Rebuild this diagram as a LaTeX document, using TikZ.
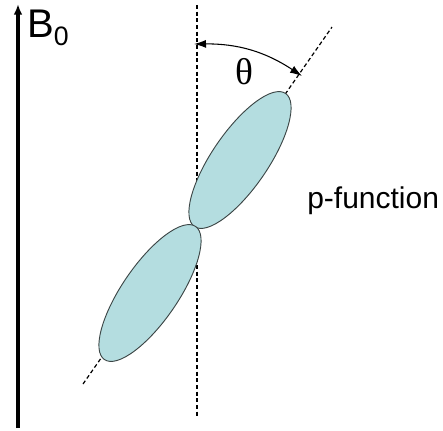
\documentclass[tikz,border=0pt]{standalone}
\usepackage{fontspec}
\setmainfont{Liberation Sans}
\newfontfamily\greekfont{Liberation Serif}
\usetikzlibrary{arrows.meta,shapes.geometric}
\definecolor{lobefill}{RGB}{180,221,224}
\definecolor{lobeline}{RGB}{60,70,70}
\begin{document}
\begin{tikzpicture}[x=0.75pt,y=-0.75pt,
  axisline/.style={line width=0.9pt,dash pattern=on 3pt off 2pt},
  lobe/.style={ellipse,draw=lobeline,fill=lobefill,line width=0.7pt,inner sep=0pt,minimum width=121pt,minimum height=42pt,rotate=55.6}]
\useasboundingbox (0,0) rectangle (443,430);
% field direction
\coordinate (fieldbot) at (18,428);
\coordinate (fieldtop) at (18,4);
\draw[line width=2.4pt,-{Latex[length=8pt,width=6.5pt]}] (fieldbot) -- (fieldtop);
\node[anchor=base west,inner sep=0pt,font=\fontsize{30}{30}\selectfont] (field) at (27,37) {B\raisebox{-6pt}{\fontsize{20}{20}\selectfont 0}};
% axes
\coordinate (vtop) at (197,5); \coordinate (vbot) at (197,418);
\draw[axisline] (vtop) -- (vbot);
\coordinate (otop) at (332,27); \coordinate (obot) at (83,384);
\draw[axisline] (obot) -- (otop);
% orbital lobes
\node[lobe] (upper) at (240,160) {};
\node[lobe] (lower) at (150,293) {};
% angle
\coordinate (arcL) at (194,44); \coordinate (arcR) at (302,76);
\draw[line width=0.8pt,{Latex[length=9pt,width=6pt]}-{Latex[length=9pt,width=6pt]}] (arcL) to[bend left=17] (arcR);
\node[font=\greekfont\fontsize{28}{28}\selectfont] (angle) at (244,72) {θ};
\node[anchor=base west,inner sep=0pt,font=\fontsize{22.5}{22.5}\selectfont] (label) at (307,208) {p-function};
\end{tikzpicture}
\end{document}
